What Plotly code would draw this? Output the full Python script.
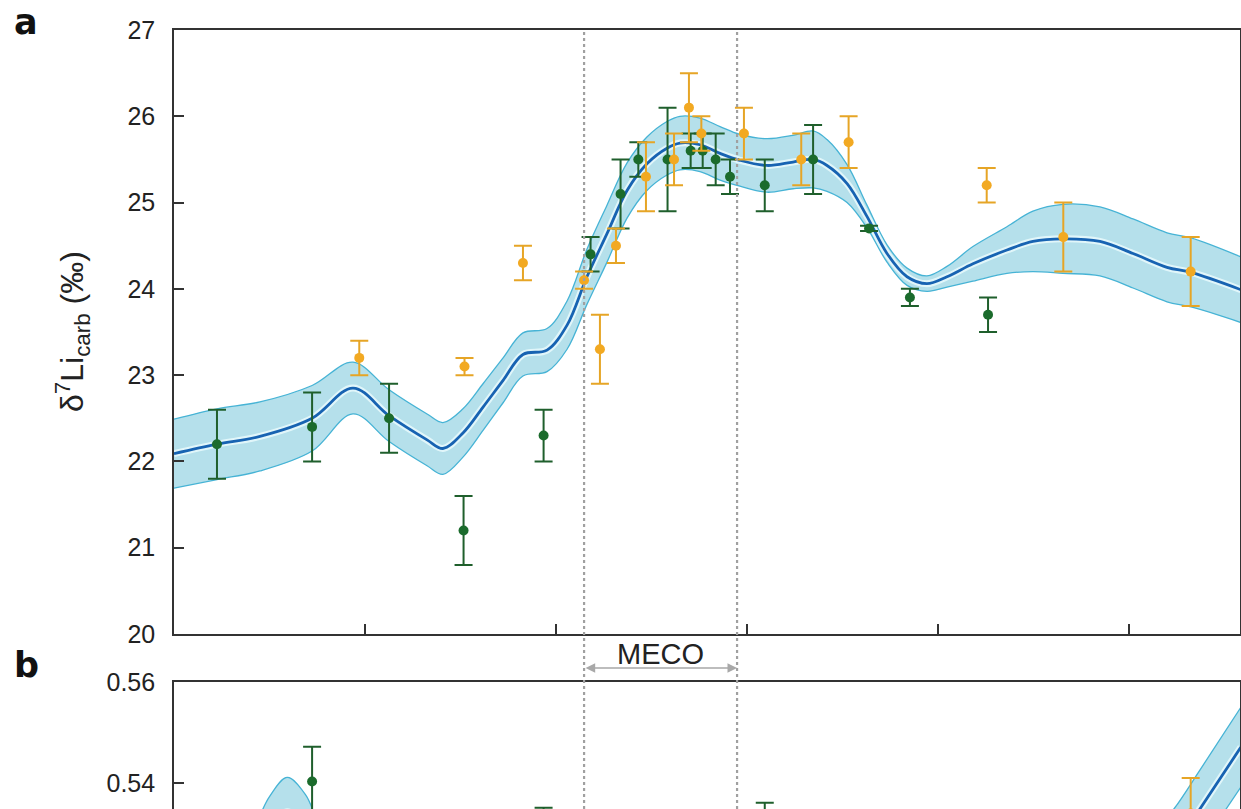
import plotly.graph_objects as go

# ---------------- data (x in generic age units, tick spacing = 1) ----------------
curve_x = [0.000, 0.225, 0.450, 0.723, 0.937, 1.126, 1.325, 1.408, 1.513, 1.618, 1.723, 1.827,
           1.953, 2.058, 2.162, 2.267, 2.372, 2.476, 2.581, 2.649, 2.754, 2.859, 2.963, 3.105,
           3.241, 3.346, 3.419, 3.524, 3.628, 3.733, 3.838, 3.942, 4.047, 4.183, 4.361, 4.497,
           4.654, 4.848, 5.021, 5.199, 5.325, 5.586]
curve_mean = [22.09, 22.20, 22.29, 22.50, 22.85, 22.53, 22.25, 22.15, 22.33, 22.63, 22.94, 23.24,
              23.29, 23.58, 24.14, 24.64, 25.14, 25.45, 25.63, 25.69, 25.67, 25.57, 25.49, 25.43,
              25.47, 25.50, 25.43, 25.22, 24.84, 24.41, 24.14, 24.06, 24.14, 24.29, 24.45, 24.55,
              24.58, 24.55, 24.41, 24.25, 24.19, 23.99]
curve_half = [0.40, 0.41, 0.40, 0.38, 0.30, 0.30, 0.30, 0.30, 0.28, 0.27, 0.26, 0.25,
              0.25, 0.28, 0.32, 0.33, 0.32, 0.31, 0.31, 0.31, 0.31, 0.31, 0.30, 0.31,
              0.31, 0.33, 0.30, 0.22, 0.13, 0.10, 0.10, 0.09, 0.12, 0.20, 0.27, 0.35,
              0.40, 0.40, 0.40, 0.40, 0.40, 0.38]

green_x = [0.225, 0.723, 1.126, 1.516, 1.935, 2.181, 2.338, 2.431, 2.584, 2.705, 2.768, 2.836,
           2.911, 3.093, 3.346, 3.639, 3.853, 4.262]
green_y = [22.2, 22.4, 22.5, 21.2, 22.3, 24.4, 25.1, 25.5, 25.5, 25.6, 25.6, 25.5,
           25.3, 25.2, 25.5, 24.7, 23.9, 23.7]
green_err = [0.4, 0.4, 0.4, 0.4, 0.3, 0.2, 0.4, 0.2, 0.6, 0.2, 0.2, 0.3,
             0.2, 0.3, 0.4, 0.03, 0.1, 0.2]

orange_x = [0.970, 1.521, 1.827, 2.147, 2.230, 2.314, 2.471, 2.618, 2.696, 2.761, 2.984, 3.284,
            3.532, 4.255, 4.656, 5.323]
orange_y = [23.2, 23.1, 24.3, 24.1, 23.3, 24.5, 25.3, 25.5, 26.1, 25.8, 25.8, 25.5,
            25.7, 25.2, 24.6, 24.2]
orange_err = [0.2, 0.1, 0.2, 0.1, 0.4, 0.2, 0.4, 0.3, 0.4, 0.2, 0.3, 0.3,
              0.3, 0.2, 0.4, 0.4]

# panel b (only its top part is visible)
b_curve_x = [0.000, 0.220, 0.400, 0.500, 0.593, 0.690, 0.770, 0.980, 1.500, 2.000, 2.500, 3.000,
             3.500, 4.000, 4.500, 4.850, 5.100, 5.236, 5.372, 5.586]
b_curve_mean = [0.512, 0.516, 0.523, 0.5305, 0.5343, 0.5308, 0.524, 0.515, 0.512, 0.514, 0.515, 0.514,
                0.512, 0.511, 0.512, 0.515, 0.521, 0.5272, 0.5349, 0.5471]
b_curve_half = [0.007, 0.007, 0.007, 0.0068, 0.0068, 0.0068, 0.007, 0.007, 0.007, 0.007, 0.007, 0.007,
                0.007, 0.007, 0.007, 0.0075, 0.0077, 0.0077, 0.0077, 0.0079]
b_green_x = [0.723, 1.935, 3.093]
b_green_y = [0.5403, 0.5281, 0.5291]
b_green_err = [0.0069, 0.0070, 0.0070]
b_orange_x = [5.323]
b_orange_y = [0.5340]
b_orange_err = [0.0070]

meco_start, meco_end = 2.147, 2.948
x_ticks = [1, 2, 3, 4, 5]
a_ticks = [20, 21, 22, 23, 24, 25, 26, 27]
b_ticks = [0.54, 0.56]

# ---------------- style ----------------
FONT = "Liberation Sans, Arial, Helvetica, sans-serif"
BAND_FILL = "rgba(168,218,232,0.85)"
BAND_EDGE = "#46b3d5"
MEAN_COL = "#1763b2"
GREEN = "#1b6b2c"
GREEN_ERR = "#1f5f2c"
ORANGE = "#f2a922"
ORANGE_ERR = "#e6a526"
AXCOL = "#333333"

fig = go.Figure()


def add_band(x, mean, half, xa, ya):
    upper = [m + h for m, h in zip(mean, half)]
    lower = [m - h for m, h in zip(mean, half)]
    fig.add_trace(go.Scatter(x=x, y=lower, mode="lines", line=dict(color=BAND_EDGE, width=1.3, shape="spline", smoothing=1.0),
                             xaxis=xa, yaxis=ya, showlegend=False, hoverinfo="skip"))
    fig.add_trace(go.Scatter(x=x, y=upper, mode="lines", line=dict(color=BAND_EDGE, width=1.3, shape="spline", smoothing=1.0),
                             fill="tonexty", fillcolor=BAND_FILL,
                             xaxis=xa, yaxis=ya, showlegend=False, hoverinfo="skip"))
    fig.add_trace(go.Scatter(x=x, y=mean, mode="lines", line=dict(color="rgba(230,248,252,0.9)", width=7, shape="spline", smoothing=1.0),
                             xaxis=xa, yaxis=ya, showlegend=False, hoverinfo="skip"))
    fig.add_trace(go.Scatter(x=x, y=mean, mode="lines", line=dict(color=MEAN_COL, width=2.8, shape="spline", smoothing=1.0),
                             xaxis=xa, yaxis=ya, showlegend=False, hoverinfo="skip"))


def add_points(x, y, err, col, ecol, xa, ya):
    fig.add_trace(go.Scatter(x=x, y=y, mode="markers",
                             marker=dict(color=col, size=10, line=dict(width=0)),
                             error_y=dict(type="data", array=err, visible=True, color=ecol, thickness=2, width=9),
                             xaxis=xa, yaxis=ya, showlegend=False))


add_band(curve_x, curve_mean, curve_half, "x", "y")
add_points(green_x, green_y, green_err, GREEN, GREEN_ERR, "x", "y")
add_points(orange_x, orange_y, orange_err, ORANGE, ORANGE_ERR, "x", "y")

add_band(b_curve_x, b_curve_mean, b_curve_half, "x2", "y2")
add_points(b_green_x, b_green_y, b_green_err, GREEN, GREEN_ERR, "x2", "y2")
add_points(b_orange_x, b_orange_y, b_orange_err, ORANGE, ORANGE_ERR, "x2", "y2")

W, H = 1241, 809
ML, MR, MT, MB = 174, 1, 30, 0
PH = H - MT - MB
PW = W - ML - MR
a_bottom_px, b_top_px = 634, 682
a_domain = [(H - MB - a_bottom_px) / PH, 1]
b_domain = [0, (H - MB - b_top_px) / PH]

# panel b range: 0.56 at 682 px, 0.54 at 783 px, bottom edge at 809 px
b_top, b_mid = 0.56, 0.54
b_bottom = b_mid - (809 - 783) * (b_top - b_mid) / (783 - 682)

xr = [0, PW / 191.0]

common_x = dict(range=xr, showline=True, linecolor=AXCOL, linewidth=1.6, automargin=False,
                ticklen=10, tickwidth=1.5, tickcolor=AXCOL,
                tickvals=x_ticks, showticklabels=False, showgrid=False, zeroline=False)
common_y = dict(showline=True, linecolor=AXCOL, linewidth=1.6, mirror=True, automargin=False,
                ticks="inside", ticklen=10, tickwidth=1.5, tickcolor=AXCOL,
                showgrid=False, zeroline=False, ticklabelstandoff=12,
                tickfont=dict(family=FONT, size=25, color="#222"))

fig.update_layout(
    width=W, height=H, autosize=False,
    margin=dict(l=ML, r=MR, t=MT, b=MB, pad=0, autoexpand=False),
    plot_bgcolor="white", paper_bgcolor="white",
    font=dict(family=FONT, color="#222"),
    xaxis=dict(domain=[0, 1], anchor="y", ticks="inside", mirror=True, **common_x),
    yaxis=dict(domain=a_domain, anchor="x", range=[20, 27], tickvals=a_ticks,
               ticktext=[str(t) for t in a_ticks], **common_y),
    # panel b is cut by the page bottom: only its top frame line is drawn
    xaxis2=dict(domain=[0, 1], anchor="y2", matches="x", ticks="", side="top", mirror=False, **common_x),
    yaxis2=dict(domain=b_domain, anchor="x2", range=[b_bottom, b_top], tickvals=b_ticks,
                ticktext=["0.54", "0.56"], **common_y),
)

# MECO dotted boundaries spanning both panels
for xv in (meco_start, meco_end):
    fig.add_shape(type="line", xref="x", yref="paper", x0=xv, x1=xv, y0=0, y1=1,
                  line=dict(color="#a0a0a0", width=2.2, dash="dot"), layer="above")

# MECO double arrow and label
arrow_y = (H - MB - 668) / PH
fig.add_annotation(x=meco_end, y=arrow_y, ax=meco_start, ay=0, xref="x", yref="paper",
                   axref="x", ayref="pixel", text="", showarrow=True, arrowhead=2, arrowsize=1.2,
                   arrowwidth=1.6, arrowcolor="#a8a8a8", arrowside="end+start", standoff=0, startstandoff=0)
fig.add_annotation(x=(meco_start + meco_end) / 2, y=(H - MB - 654) / PH, xref="x", yref="paper",
                   text="MECO", showarrow=False, font=dict(family=FONT, size=29, color="#222"),
                   xanchor="center", yanchor="middle")

# y-axis title
fig.add_annotation(x=(72 - ML) / PW, y=(H - MB - 332) / PH, xref="paper", yref="paper",
                   text="δ<sup>7</sup>Li<sub>carb</sub> (‰)", showarrow=False, textangle=-90,
                   font=dict(family=FONT, size=32, color="#222"), xanchor="center", yanchor="middle")

# panel letters
fig.add_annotation(x=(26 - ML) / PW, y=(H - MB - 22) / PH, xref="paper", yref="paper",
                   text="<b>a</b>", showarrow=False, font=dict(family="DejaVu Sans, Arial", size=35, color="#111"),
                   xanchor="center", yanchor="middle")
fig.add_annotation(x=(26 - ML) / PW, y=(H - MB - 665) / PH, xref="paper", yref="paper",
                   text="<b>b</b>", showarrow=False, font=dict(family="DejaVu Sans, Arial", size=35, color="#111"),
                   xanchor="center", yanchor="middle")

fig.write_html("out.html", config={"responsive": False, "displayModeBar": False},
               post_script="document.body.style.margin='0';document.body.style.overflow='hidden';")
